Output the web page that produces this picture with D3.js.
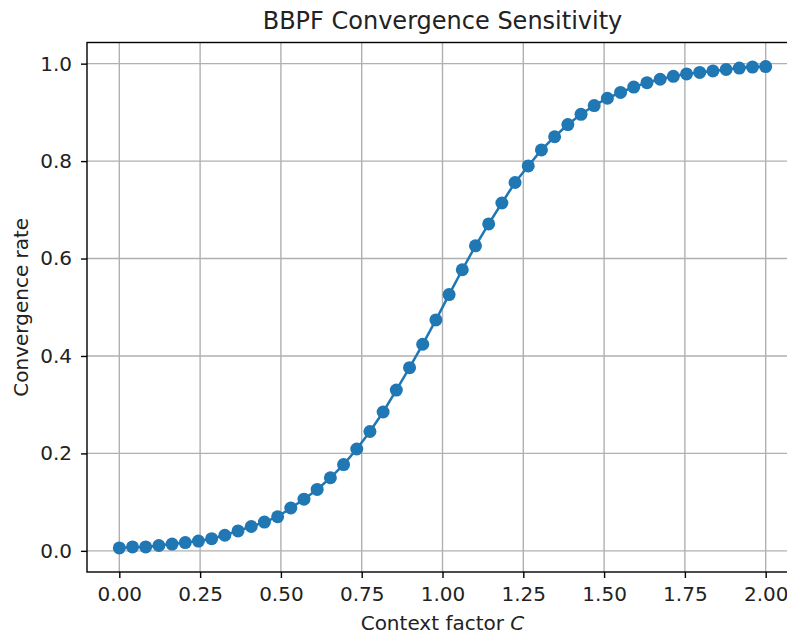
<!DOCTYPE html>
<html>
<head>
<meta charset="utf-8">
<script src="https://cdn.jsdelivr.net/npm/d3@7"></script>
<style>
  body { margin: 0; background: #fff; }
  svg { display: block; font-family: "DejaVu Sans", sans-serif; }
</style>
</head>
<body>
<svg id="chart"></svg>
<script>
// context factor C, 50 evenly spaced samples from 0 to 2
const cValues = [
  0.0000, 0.0408, 0.0816, 0.1224, 0.1633, 0.2041, 0.2449, 0.2857, 0.3265, 0.3673,
  0.4082, 0.4490, 0.4898, 0.5306, 0.5714, 0.6122, 0.6531, 0.6939, 0.7347, 0.7755,
  0.8163, 0.8571, 0.8980, 0.9388, 0.9796, 1.0204, 1.0612, 1.1020, 1.1429, 1.1837,
  1.2245, 1.2653, 1.3061, 1.3469, 1.3878, 1.4286, 1.4694, 1.5102, 1.5510, 1.5918,
  1.6327, 1.6735, 1.7143, 1.7551, 1.7959, 1.8367, 1.8776, 1.9184, 1.9592, 2.0000
];
const rates = [
  0.006, 0.008, 0.008, 0.011, 0.014, 0.017, 0.020, 0.025, 0.032, 0.041,
  0.050, 0.059, 0.070, 0.088, 0.106, 0.126, 0.150, 0.177, 0.209, 0.245,
  0.285, 0.330, 0.376, 0.424, 0.474, 0.526, 0.577, 0.626, 0.671, 0.714,
  0.756, 0.790, 0.823, 0.850, 0.875, 0.896, 0.914, 0.929, 0.941, 0.952,
  0.961, 0.968, 0.974, 0.979, 0.982, 0.985, 0.988, 0.991, 0.993, 0.994
];
const xTicks = [0, 0.25, 0.5, 0.75, 1.0, 1.25, 1.5, 1.75, 2.0];
const yTicks = [0, 0.2, 0.4, 0.6, 0.8, 1.0];

const width = 787;
const height = 634;
const plotLeft = 87, plotRight = 798, plotTop = 42.5, plotBottom = 572;
const blue = "#1f77b4";

const data = cValues.map((c, i) => ({ c: c, r: rates[i] }));

const svg = d3.select("#chart").attr("width", width).attr("height", height);

// matplotlib style 5% margins
const xMin = d3.min(cValues), xMax = d3.max(cValues);
const yMin = d3.min(rates), yMax = d3.max(rates);
const xPad = (xMax - xMin) * 0.05, yPad = (yMax - yMin) * 0.05;

const xScale = d3.scaleLinear().domain([xMin - xPad, xMax + xPad]).range([plotLeft, plotRight]);
const yScale = d3.scaleLinear().domain([yMin - yPad, yMax + yPad]).range([plotBottom, plotTop]);

// grid
const grid = svg.append("g").attr("stroke", "#b0b0b0").attr("stroke-width", 1.4);
grid.selectAll(".gx").data(xTicks).enter().append("line")
  .attr("x1", (d) => xScale(d)).attr("x2", (d) => xScale(d))
  .attr("y1", plotTop).attr("y2", plotBottom);
grid.selectAll(".gy").data(yTicks).enter().append("line")
  .attr("x1", plotLeft).attr("x2", plotRight)
  .attr("y1", (d) => yScale(d)).attr("y2", (d) => yScale(d));

// axes
const xAxis = d3.axisBottom(xScale).tickValues(xTicks).tickFormat(d3.format(".2f"))
  .tickSizeInner(6).tickSizeOuter(0).tickPadding(9);
const yAxis = d3.axisLeft(yScale).tickValues(yTicks).tickFormat(d3.format(".1f"))
  .tickSizeInner(6).tickSizeOuter(0).tickPadding(9);

svg.append("g")
  .attr("id", "x-axis")
  .attr("transform", `translate(0, ${plotBottom})`)
  .call(xAxis);

svg.append("g")
  .attr("id", "y-axis")
  .attr("transform", `translate(${plotLeft}, 0)`)
  .call(yAxis);

svg.selectAll("#x-axis, #y-axis")
  .call((g) => g.select(".domain").remove())
  .call((g) => g.selectAll(".tick line").attr("stroke", "#000").attr("stroke-width", 1.4))
  .call((g) => g.selectAll(".tick text")
    .attr("fill", "#222")
    .style("font-family", "DejaVu Sans")
    .style("font-size", "20px"));

// spines
svg.append("rect")
  .attr("x", plotLeft).attr("y", plotTop)
  .attr("width", plotRight - plotLeft).attr("height", plotBottom - plotTop)
  .attr("fill", "none").attr("stroke", "#000").attr("stroke-width", 1.4);

// series
const line = d3.line().x((d) => xScale(d.c)).y((d) => yScale(d.r));

svg.append("path")
  .datum(data)
  .attr("fill", "none")
  .attr("stroke", blue)
  .attr("stroke-width", 2.5)
  .attr("d", line);

svg.selectAll(".dot")
  .data(data)
  .enter()
  .append("circle")
  .attr("class", "dot")
  .attr("cx", (d) => xScale(d.c))
  .attr("cy", (d) => yScale(d.r))
  .attr("r", 6.5)
  .attr("fill", blue);

// title and axis labels
svg.append("text")
  .attr("x", (plotLeft + plotRight) / 2).attr("y", 29)
  .attr("text-anchor", "middle")
  .attr("fill", "#222")
  .style("font-size", "24px")
  .text("BBPF Convergence Sensitivity");

const xLabel = svg.append("text")
  .attr("x", (plotLeft + plotRight) / 2).attr("y", 630)
  .attr("text-anchor", "middle")
  .attr("fill", "#222")
  .style("font-size", "20px");
xLabel.append("tspan").text("Context factor ");
xLabel.append("tspan").style("font-style", "italic").text("C");

svg.append("text")
  .attr("transform", `translate(28, ${(plotTop + plotBottom) / 2}) rotate(-90)`)
  .attr("text-anchor", "middle")
  .attr("fill", "#222")
  .style("font-size", "20px")
  .text("Convergence rate");
</script>
</body>
</html>
